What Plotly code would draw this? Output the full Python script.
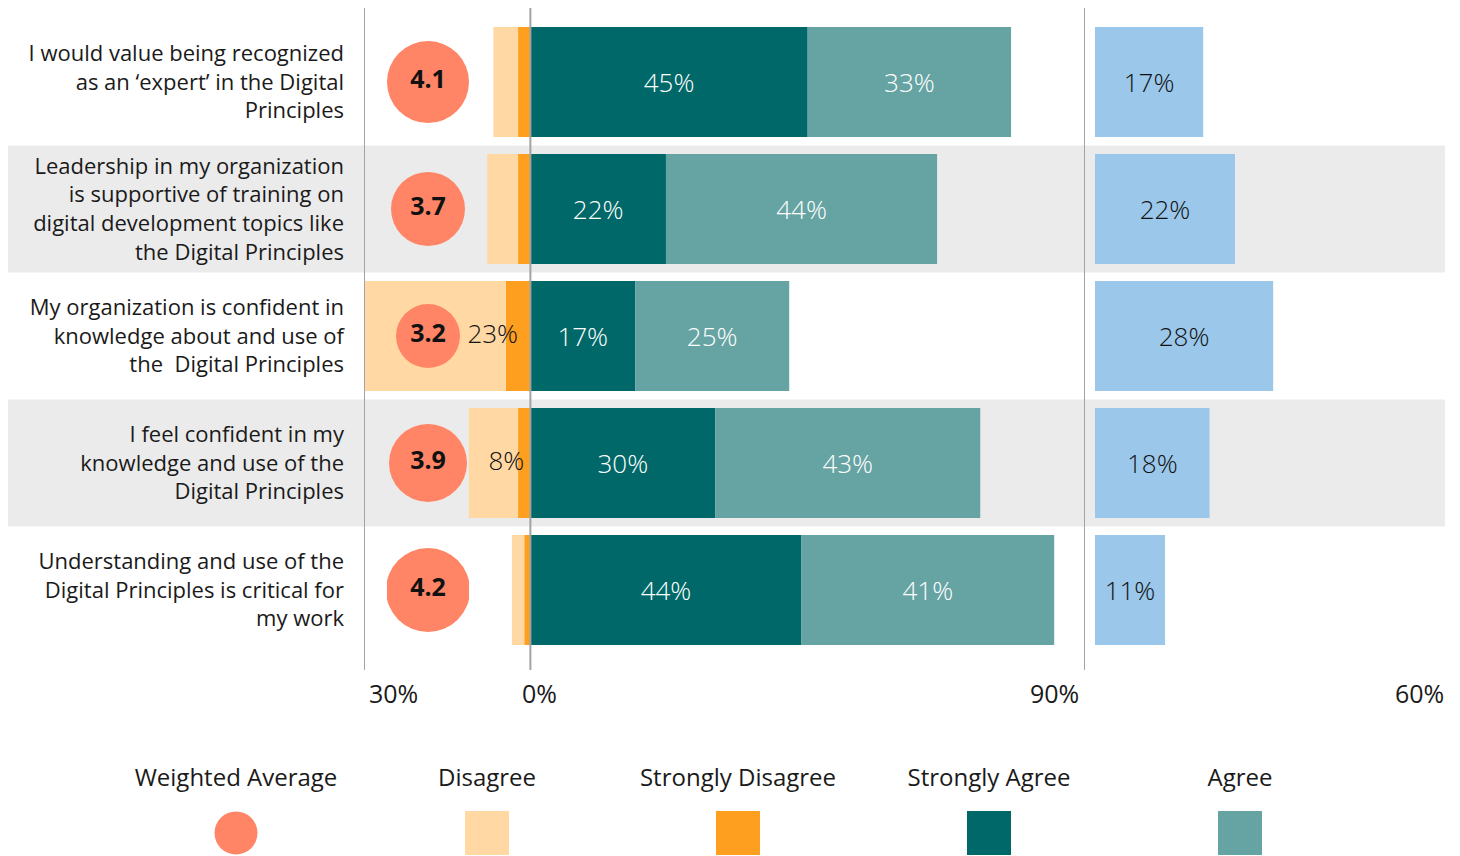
import plotly.graph_objects as go

# survey statements (top to bottom) and results, percent of respondents
STATEMENTS = [
    "I would value being recognized<br>as an ‘expert’ in the Digital<br>Principles",
    "Leadership in my organization<br>is supportive of training on<br>digital development topics like<br>the Digital Principles",
    "My organization is confident in<br>knowledge about and use of<br>the  Digital Principles",
    "I feel confident in my<br>knowledge and use of the<br>Digital Principles",
    "Understanding and use of the<br>Digital Principles is critical for<br>my work",
]
WEIGHTED_AVG = [4.1, 3.7, 3.2, 3.9, 4.2]
STRONGLY_DISAGREE = [2, 2, 4, 2, 1]
DISAGREE = [4, 5, 23, 8, 2]
STRONGLY_AGREE = [45, 22, 17, 30, 44]
AGREE = [33, 44, 25, 43, 41]
NEUTRAL = [17, 22, 28, 18, 11]

AXIS_LABELS = ["30%", "0%", "90%", "60%"]
LEGEND_LABELS = ["Weighted Average", "Disagree", "Strongly Disagree", "Strongly Agree", "Agree"]

C_AVG = "#FF8566"
C_DIS = "#FFD8A3"
C_SDIS = "#FF9F1F"
C_SAGR = "#006868"
C_AGR = "#66A3A3"
C_NEU = "#9AC7EA"
LEGEND_COLORS = [C_AVG, C_DIS, C_SDIS, C_SAGR, C_AGR]

FONT = "Open Sans"
OFF = 8                      # page body margin
W, H = 1460 - OFF, 856 - OFF


def px(x):   # screen pixel -> paper x
    return (x - OFF) / W


def py(y):   # screen pixel -> paper y
    return 1 - (y - OFF) / H


fig = go.Figure()

# diverging bars
fig.add_trace(go.Bar(y=STATEMENTS, x=[-v for v in STRONGLY_DISAGREE], orientation="h",
                     marker_color=C_SDIS, marker_line_width=0, hoverinfo="skip"))
fig.add_trace(go.Bar(y=STATEMENTS, x=[-v for v in DISAGREE], orientation="h",
                     marker_color=C_DIS, marker_line_width=0, hoverinfo="skip"))
for vals, col in ((STRONGLY_AGREE, C_SAGR), (AGREE, C_AGR)):
    fig.add_trace(go.Bar(y=STATEMENTS, x=vals, orientation="h",
                         marker_color=col, marker_line_width=0,
                         text=[f"{v}%" for v in vals], textposition="inside",
                         insidetextanchor="middle", textangle=0,
                         insidetextfont=dict(color="white", size=26, family=FONT, weight=300)))

# neutral panel
fig.add_trace(go.Bar(y=STATEMENTS, x=NEUTRAL, orientation="h", xaxis="x2", yaxis="y2",
                     marker_color=C_NEU, marker_line_width=0,
                     text=[f"{v}%" for v in NEUTRAL], textposition="inside",
                     insidetextanchor="middle", textangle=0,
                     insidetextfont=dict(color="#111", size=26, family=FONT, weight=300)))

# weighted average circles
fig.add_trace(go.Scatter(y=STATEMENTS, x=[0] * len(STATEMENTS), xaxis="x3", yaxis="y3",
                         mode="markers+text",
                         marker=dict(color=C_AVG, size=[v * 20 for v in WEIGHTED_AVG],
                                     opacity=1, line_width=0),
                         text=[f"{v}" for v in WEIGHTED_AVG], textposition="middle center",
                         textfont=dict(color="#111", size=25, family=FONT, weight="bold")))

# disagree labels only where the bar is wide enough
lab = [(s, -sd / 2, f"{d}%") for s, sd, d in zip(STATEMENTS, STRONGLY_DISAGREE, DISAGREE) if d >= 8]
fig.add_trace(go.Scatter(y=[r[0] for r in lab], x=[r[1] for r in lab], mode="text",
                         text=[r[2] for r in lab], textposition="middle left",
                         textfont=dict(color="#111", size=26, family=FONT, weight=300)))

# legend, drawn by hand: label above symbol
n = len(LEGEND_LABELS)
fig.add_trace(go.Scatter(x=list(range(n)), y=[0.124] * n, xaxis="x4", yaxis="y4", mode="markers",
                         marker=dict(color=LEGEND_COLORS, size=[43, 44, 44, 44, 44], opacity=1,
                                     symbol=["circle"] + ["square"] * (n - 1), line_width=0)))
fig.add_trace(go.Scatter(x=list(range(n)), y=[0.41] * n, xaxis="x4", yaxis="y4", mode="text",
                         text=LEGEND_LABELS, textposition="middle center",
                         textfont=dict(color="#1a1a1a", size=24, family=FONT)))

yr = [4.63, -0.583]
ydom = [py(670), py(8)]
shapes = []
for i in (1, 3):
    shapes.append(dict(type="rect", xref="paper", yref="y", x0=0, x1=px(1445),
                       y0=i - 0.5, y1=i + 0.5, fillcolor="#EBEBEB", line_width=0, layer="below"))
for xv in (-27, 0, 90):
    shapes.append(dict(type="line", xref="x", yref="y domain", x0=xv, x1=xv, y0=0, y1=1,
                       line=dict(color="#A3A3A3", width=2), layer="above"))

ann_font = dict(color="#1a1a1a", size=25, family=FONT)
annotations = [
    dict(text=AXIS_LABELS[0], x=-27, xref="x", xanchor="left", xshift=3),
    dict(text=AXIS_LABELS[1], x=0, xref="x", xanchor="center", xshift=9),
    dict(text=AXIS_LABELS[2], x=90, xref="x", xanchor="right", xshift=-4),
    dict(text=AXIS_LABELS[3], x=px(1446), xref="paper", xanchor="right"),
]
for a in annotations:
    a.update(y=py(693), yref="paper", yanchor="middle", showarrow=False, font=ann_font)

fig.update_layout(
    width=W, height=H, margin=dict(l=0, r=0, t=0, b=0),
    paper_bgcolor="white", plot_bgcolor="rgba(0,0,0,0)",
    barmode="relative", bargap=0.134, showlegend=False,
    font=dict(family=FONT, color="#222"),
    xaxis=dict(domain=[px(364), px(1085)], range=[-27, 90], visible=False, fixedrange=True),
    yaxis=dict(domain=ydom, range=yr, showgrid=False, zeroline=False, showline=False,
               tickfont=dict(size=22, color="#1a1a1a", family=FONT), ticks="",
               ticklabelstandoff=19, fixedrange=True),
    xaxis2=dict(domain=[px(1095), px(1445)], range=[0, 55], visible=False, anchor="y2"),
    yaxis2=dict(domain=ydom, range=yr, visible=False, anchor="x2", matches="y"),
    xaxis3=dict(domain=[px(387), px(469)], range=[-1, 1], visible=False, anchor="y3"),
    yaxis3=dict(domain=ydom, range=yr, visible=False, anchor="x3", overlaying="y", matches="y"),
    xaxis4=dict(domain=[px(110.5), px(1365.5)], range=[-0.5, 4.5], visible=False, anchor="y4"),
    yaxis4=dict(domain=[0, py(670)], range=[0, 1], visible=False, anchor="x4"),
    shapes=shapes, annotations=annotations,
)

fig.write_html("out.html")
